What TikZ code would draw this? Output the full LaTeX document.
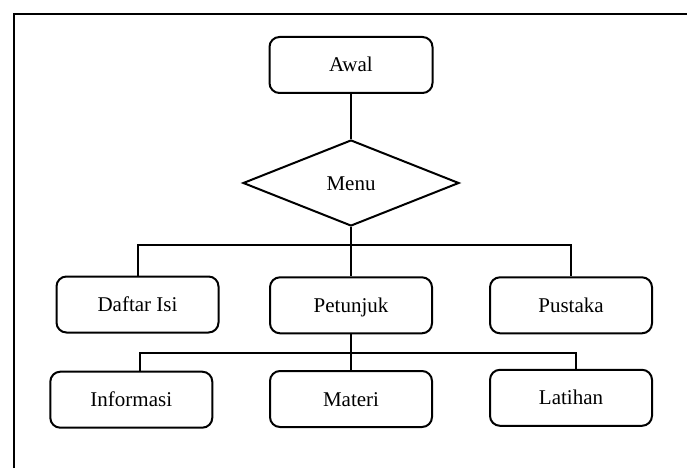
\documentclass[tikz,border=0pt]{standalone}
\usepackage{fontspec}
\setmainfont{Liberation Serif}
\usetikzlibrary{shapes.geometric}

\begin{document}
\begin{tikzpicture}
[x=1pt,y=-1pt,line width=2pt,
box/.style={draw,rounded corners=10pt,minimum width=162pt,minimum height=56pt,inner sep=0pt,text height=14pt,text depth=0pt,font=\fontsize{21}{25}\selectfont},
choice/.style={draw,diamond,minimum width=216pt,minimum height=86pt,inner sep=0pt,text height=14pt,text depth=0pt,font=\fontsize{21}{25}\selectfont},]

\useasboundingbox (0,0) rectangle (687,468);

%Frame
\draw[line width=2.6pt] (14,468) -- (14,14) -- (687,14);

%Placing boxes
\node (awal) at (351,65)[box,minimum width=163pt] {Awal};
\node (menu) at (351,183)[choice] {Menu};
\node (daftar) at (137.5,304.5)[box] {Daftar Isi};
\node (petunjuk) at (351,305.3)[box] {Petunjuk};
\node (pustaka) at (571,305.3)[box] {Pustaka};
\node (informasi) at (131.3,399.7)[box] {Informasi};
\node (materi) at (351,399)[box] {Materi};
\node (latihan) at (571,397.8)[box] {Latihan};

%Branch points
\coordinate (busA) at (351,245);
\coordinate (busB) at (351,353.3);

%Joining Awal and Menu
\draw (awal) -- (menu);

%Joining Menu to first row
\draw (menu) -- (petunjuk);
\draw (daftar.north) |- (busA) -| (pustaka.north);

%Joining Petunjuk to second row
\draw (petunjuk) -- (materi);
\draw ([xshift=8.7pt]informasi.north) |- (busB) -| ([xshift=4.7pt]latihan.north);

\end{tikzpicture}
\end{document}
